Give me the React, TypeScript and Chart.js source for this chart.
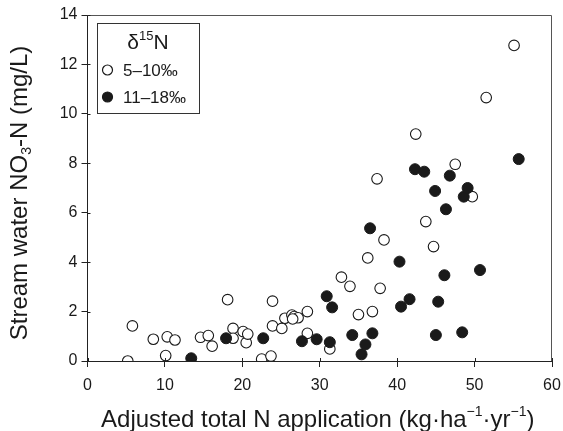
import React, { useEffect, useRef } from "react";
import { Chart, registerables } from "chart.js";

Chart.register(...registerables);

const openX = [5.2, 5.8, 8.5, 10.1, 10.3, 11.3, 14.6, 15.6, 16.1, 18.1, 18.8, 18.8, 20.1, 20.5, 20.7, 22.5, 23.7, 23.9, 23.9, 25.1, 25.5, 26.4, 26.7, 27.2, 26.5, 28.4, 28.4, 31.3, 32.8, 33.9, 35.0, 36.2, 36.8, 37.4, 37.8, 38.3, 42.4, 43.7, 44.7, 47.5, 49.7, 51.5, 55.1];
const openY = [0.0, 1.42, 0.88, 0.22, 0.98, 0.85, 0.96, 1.03, 0.6, 2.48, 1.32, 0.92, 1.19, 0.74, 1.09, 0.08, 0.2, 2.42, 1.42, 1.32, 1.73, 1.86, 1.8, 1.75, 1.7, 2.0, 1.12, 0.49, 3.39, 3.02, 1.88, 4.17, 2.0, 7.37, 2.94, 4.9, 9.18, 5.64, 4.63, 7.96, 6.65, 10.66, 12.77];

const filledX = [13.4, 17.9, 22.7, 27.7, 29.6, 30.9, 31.6, 31.3, 34.2, 35.4, 35.9, 36.8, 36.5, 40.3, 40.5, 41.6, 42.3, 43.5, 44.9, 45.0, 45.3, 46.1, 46.3, 46.8, 48.4, 48.6, 49.1, 50.7, 55.7];
const filledY = [0.11, 0.92, 0.92, 0.8, 0.88, 2.62, 2.17, 0.76, 1.05, 0.27, 0.67, 1.12, 5.37, 4.02, 2.2, 2.5, 7.76, 7.66, 6.88, 1.05, 2.4, 3.47, 6.14, 7.5, 1.16, 6.65, 7.0, 3.68, 8.17];

const xTicks = [0, 10, 20, 30, 40, 50, 60];
const yTicks = [0, 2, 4, 6, 8, 10, 12, 14];

const legendTitle = [{ t: "δ" }, { t: "15", s: "sup" }, { t: "N" }];
const legendLabels = ["5–10‰", "11–18‰"];
const xTitle = [{ t: "Adjusted total N application (kg·ha" }, { t: "−1", s: "sup" }, { t: "·yr" }, { t: "−1", s: "sup" }, { t: ")" }];
const yTitle = [{ t: "Stream water NO" }, { t: "3", s: "sub" }, { t: "-N (mg/L)" }];

const FONT = "'Liberation Sans', Arial, Helvetica, sans-serif";
const INK = "#1a1a1a";

type Part = { t: string; s?: string };

function drawRich(ctx: CanvasRenderingContext2D, parts: Part[], x: number, y: number, size: number, align: "center" | "left") {
  const small = Math.round(size * 0.6);
  const widths = parts.map((p) => {
    ctx.font = `${p.s ? small : size}px ${FONT}`;
    return ctx.measureText(p.t).width;
  });
  const total = widths.reduce((a, b) => a + b, 0);
  let cx = align === "center" ? x - total / 2 : x;
  ctx.textAlign = "left";
  ctx.textBaseline = "middle";
  parts.forEach((p, i) => {
    ctx.font = `${p.s ? small : size}px ${FONT}`;
    let dy = 0;
    if (p.s === "sup") dy = -size * 0.33;
    if (p.s === "sub") dy = size * 0.3;
    ctx.fillText(p.t, cx, y + dy);
    cx += widths[i];
  });
}

const decorPlugin = {
  id: "decor",
  afterDraw(chart: any) {
    const ctx: CanvasRenderingContext2D = chart.ctx;
    const a = chart.chartArea;
    const xs = chart.scales.x;
    const ys = chart.scales.y;
    ctx.save();
    // frame top & right
    ctx.strokeStyle = "#555";
    ctx.lineWidth = 1;
    ctx.beginPath();
    ctx.moveTo(a.left, a.top + 0.5);
    ctx.lineTo(a.right - 0.5, a.top + 0.5);
    ctx.lineTo(a.right - 0.5, a.bottom);
    ctx.stroke();

    // inner parts of ticks (ticks cross the axis)
    ctx.strokeStyle = "#222";
    ctx.beginPath();
    xTicks.forEach((v) => {
      const px = Math.round(xs.getPixelForValue(v)) + 0.5;
      ctx.moveTo(px, a.bottom);
      ctx.lineTo(px, a.bottom - 3);
    });
    yTicks.forEach((v) => {
      const py = Math.round(ys.getPixelForValue(v)) + 0.5;
      ctx.moveTo(a.left, py);
      ctx.lineTo(a.left + 3, py);
    });
    ctx.stroke();

    ctx.fillStyle = INK;
    // x title
    drawRich(ctx, xTitle, (a.left + a.right) / 2 - 2, 420, 24, "center");
    // y title
    ctx.save();
    ctx.translate(20, 193);
    ctx.rotate(-Math.PI / 2);
    drawRich(ctx, yTitle, 0, 0, 24, "center");
    ctx.restore();

    // legend
    const lx = 97, ly = 23, lw = 102, lh = 90;
    ctx.fillStyle = "#fff";
    ctx.fillRect(lx, ly, lw, lh);
    ctx.strokeStyle = "#333";
    ctx.lineWidth = 1;
    ctx.strokeRect(lx + 0.5, ly + 0.5, lw, lh);
    ctx.fillStyle = INK;
    drawRich(ctx, legendTitle, lx + lw / 2, 43, 21, "center");
    const rows = [70, 97];
    rows.forEach((ry, i) => {
      ctx.beginPath();
      ctx.arc(107.5, ry, 5, 0, Math.PI * 2);
      ctx.lineWidth = 1.2;
      ctx.strokeStyle = INK;
      if (i === 1) {
        ctx.fillStyle = INK;
        ctx.fill();
      }
      ctx.stroke();
      ctx.fillStyle = INK;
      drawRich(ctx, [{ t: legendLabels[i] }], 123, ry + 1, 17, "left");
    });
    ctx.restore();
  },
};

export default function App() {
  const ref = useRef<HTMLCanvasElement>(null);
  useEffect(() => {
    if (!ref.current) return;
    const chart = new Chart(ref.current, {
      type: "scatter",
      data: {
        datasets: [
          {
            label: legendLabels[0],
            data: openX.map((x, i) => ({ x, y: openY[i] })),
            backgroundColor: "#ffffff",
            borderColor: INK,
            borderWidth: 1.1,
            pointRadius: 5.3,
            order: 1,
          },
          {
            label: legendLabels[1],
            data: filledX.map((x, i) => ({ x, y: filledY[i] })),
            backgroundColor: INK,
            borderColor: INK,
            borderWidth: 1,
            pointRadius: 5.5,
            order: 0,
          },
        ],
      },
      options: {
        animation: false,
        responsive: false,
        layout: { padding: { top: 15, right: 11, left: 0, bottom: 0 } },
        plugins: { legend: { display: false }, tooltip: { enabled: false } },
        scales: {
          x: {
            type: "linear",
            min: 0,
            max: 60,
            afterBuildTicks: (s: any) => {
              s.ticks = xTicks.map((v) => ({ value: v }));
            },
            afterFit: (s: any) => {
              s.height = 70;
              s.paddingRight = 0;
              s.paddingLeft = 0;
            },
            border: { display: true, color: "#222", width: 1 },
            grid: { display: true, drawOnChartArea: false, drawTicks: true, tickLength: 6, color: "#222" },
            ticks: { color: INK, font: { family: FONT, size: 16 }, padding: 9, maxRotation: 0 },
          },
          y: {
            type: "linear",
            min: 0,
            max: 14,
            afterBuildTicks: (s: any) => {
              s.ticks = yTicks.map((v) => ({ value: v }));
            },
            afterFit: (s: any) => {
              s.width = 87.5;
              s.paddingTop = 0;
              s.paddingBottom = 0;
            },
            border: { display: true, color: "#222", width: 1 },
            grid: { display: true, drawOnChartArea: false, drawTicks: true, tickLength: 6, color: "#222" },
            ticks: { color: INK, font: { family: FONT, size: 16 }, padding: 4 },
          },
        },
      },
      plugins: [decorPlugin],
    });
    return () => chart.destroy();
  }, []);
  return (
    <div style={{ position: "fixed", left: 0, top: 0, width: 563, height: 431, background: "#fff" }}>
      <canvas ref={ref} width={563} height={431} style={{ width: 563, height: 431 }} />
    </div>
  );
}
